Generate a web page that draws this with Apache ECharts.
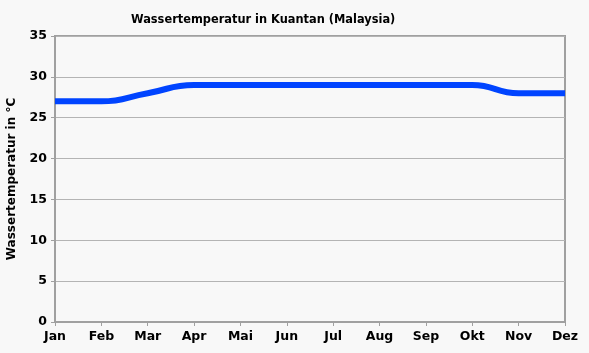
<!DOCTYPE html>
<html><head><meta charset="utf-8">
<script src="https://cdn.jsdelivr.net/npm/echarts@6/dist/echarts.min.js"></script>
<style>html,body{margin:0;padding:0;background:#f8f8f8}#c{width:589px;height:353px}</style>
</head><body><div id="c"></div>
<script>
const months = ['Jan','Feb','Mar','Apr','Mai','Jun','Jul','Aug','Sep','Okt','Nov','Dez'];
const waterTemp = [27,27,28,29,29,29,29,29,29,29,28,28];
const yTicks = {min:0, max:35, interval:5};
const titleText = 'Wassertemperatur in Kuantan (Malaysia)';
const yName = 'Wassertemperatur in °C';

const chart = echarts.init(document.getElementById('c'), null, {renderer:'canvas'});
const font = 'DejaVu Sans';
chart.setOption({
  backgroundColor:'#f8f8f8',
  animation:false,
  title:{text:titleText, left:126, top:10, textStyle:{fontFamily:font, fontSize:11.4, fontWeight:'bold', color:'#000'}},
  grid:{left:55, right:24, top:36, bottom:31, show:true, borderColor:'#a0a0a0', borderWidth:2, backgroundColor:'transparent', containLabel:false, outerBoundsMode:'none'},
  xAxis:{type:'category', data:months, boundaryGap:false,
    axisLine:{lineStyle:{color:'#a0a0a0', width:2}},
    axisTick:{show:true, alignWithLabel:true, length:4, lineStyle:{color:'#a0a0a0'}},
    axisLabel:{fontFamily:font, fontSize:12.5, fontWeight:'bold', color:'#000', margin:8},
    splitLine:{show:false}},
  yAxis:{type:'value', min:yTicks.min, max:yTicks.max, interval:yTicks.interval,
    name:yName, nameLocation:'middle', nameGap:37, nameRotate:90,
    nameTextStyle:{fontFamily:font, fontSize:12, fontWeight:'bold', color:'#000'},
    axisLine:{show:true, lineStyle:{color:'#a0a0a0', width:2}},
    axisTick:{show:true, length:4, lineStyle:{color:'#a0a0a0'}},
    axisLabel:{fontFamily:font, fontSize:12.5, fontWeight:'bold', color:'#000', margin:8},
    splitLine:{show:true, lineStyle:{color:'#b4b4b4', width:1}}},
  series:[{type:'line', data:waterTemp, smooth:0.5, symbol:'none',
    lineStyle:{color:'#0044ff', width:6}}]
});
</script></body></html>
